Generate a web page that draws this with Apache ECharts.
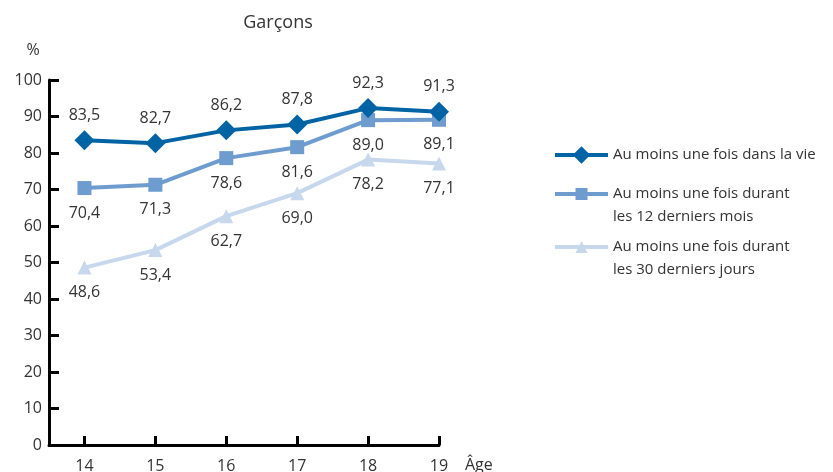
<!DOCTYPE html>
<html>
<head>
<meta charset="utf-8">
<script src="https://cdn.jsdelivr.net/npm/echarts@6/dist/echarts.min.js"></script>
<style>
  html, body { margin: 0; padding: 0; background: #fff; }
  #chart { width: 833px; height: 472px; }
</style>
</head>
<body>
<div id="chart"></div>
<script>
const ages = [14, 15, 16, 17, 18, 19]
const seriesNames = [
  'Au moins une fois dans la vie',
  'Au moins une fois durant\nles 12 derniers mois',
  'Au moins une fois durant\nles 30 derniers jours'
]
const vie = [83.5, 82.7, 86.2, 87.8, 92.3, 91.3]
const douzeMois = [70.4, 71.3, 78.6, 81.6, 89.0, 89.1]
const trenteJours = [48.6, 53.4, 62.7, 69.0, 78.2, 77.1]

const colors = ['#0063a3', '#6e9ccf', '#c7d7ec']
const font = "'Open Sans', sans-serif"
const textColor = '#333'

function pairs(values) {
  return values.map((v, i) => [ages[i], v])
}

function fmt(p) {
  return p.value[1].toFixed(1).replace('.', ',')
}

// one legend per item so each can sit where the original puts it.
// two-line names get a blank first line so the icon lines up with the first real line
const legendTops = [143.5, 159.5, 212.5]
const legendIconH = [22, 15, 15]

const chart = echarts.init(document.getElementById('chart'))

chart.setOption({
  animation: false,
  backgroundColor: '#fff',
  textStyle: { fontFamily: font },
  title: {
    text: 'Garçons',
    left: 273,
    textAlign: 'center',
    top: 9,
    textStyle: { color: textColor, fontSize: 18, fontWeight: 'normal', fontFamily: font }
  },
  grid: { left: 49, right: 394, top: 80, bottom: 27, outerBoundsMode: 'none' },
  legend: [0, 1, 2].map(i => ({
    data: [seriesNames[i]],
    left: 553,
    top: legendTops[i],
    padding: 0,
    itemWidth: 53,
    itemHeight: legendIconH[i],
    selectedMode: false,
    lineStyle: { width: 4 },
    formatter: name => (i === 0 ? name : ' \n' + name),
    textStyle: { color: textColor, fontSize: 15, lineHeight: 23, fontFamily: font }
  })),
  xAxis: {
    type: 'value',
    min: 13.5,
    max: 19,
    name: 'Âge',
    nameLocation: 'end',
    nameGap: 26,
    nameTextStyle: { color: textColor, fontSize: 16, align: 'left', verticalAlign: 'top', lineHeight: 40 },
    axisLine: { lineStyle: { color: '#000', width: 3 } },
    axisTick: { inside: true, length: 9, customValues: ages, lineStyle: { color: '#000', width: 3 } },
    axisLabel: { customValues: ages, color: textColor, fontSize: 16, margin: 13 },
    splitLine: { show: false }
  },
  yAxis: {
    type: 'value',
    min: 0,
    max: 100,
    interval: 10,
    name: '%',
    nameLocation: 'end',
    nameGap: 22,
    nameTextStyle: { color: textColor, fontSize: 16, padding: [0, 32, 0, 0] },
    axisLine: { show: true, lineStyle: { color: '#000', width: 3 } },
    axisTick: { show: true, inside: true, length: 10, lineStyle: { color: '#000', width: 3 } },
    axisLabel: { color: textColor, fontSize: 16, margin: 7 },
    splitLine: { show: false }
  },
  series: [
    {
      name: seriesNames[2],
      type: 'line',
      data: pairs(trenteJours),
      symbol: 'triangle',
      symbolSize: 14,
      color: colors[2],
      lineStyle: { width: 4, color: colors[2] },
      itemStyle: { color: colors[2] },
      label: { show: true, position: 'bottom', distance: 10, color: textColor, fontSize: 16, formatter: fmt },
      z: 2
    },
    {
      name: seriesNames[1],
      type: 'line',
      data: pairs(douzeMois),
      symbol: 'rect',
      symbolSize: 14,
      color: colors[1],
      lineStyle: { width: 4, color: colors[1] },
      itemStyle: { color: colors[1] },
      label: { show: true, position: 'bottom', distance: 10, color: textColor, fontSize: 16, formatter: fmt },
      z: 3
    },
    {
      name: seriesNames[0],
      type: 'line',
      data: pairs(vie),
      symbol: 'diamond',
      symbolSize: 20,
      color: colors[0],
      lineStyle: { width: 4, color: colors[0] },
      itemStyle: { color: colors[0] },
      label: { show: true, position: 'top', distance: 7, color: textColor, fontSize: 16, formatter: fmt },
      z: 4
    }
  ]
})
</script>
</body>
</html>
